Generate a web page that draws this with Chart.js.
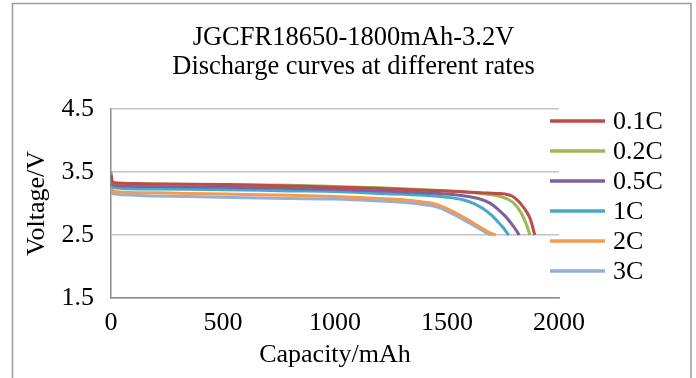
<!DOCTYPE html>
<html><head><meta charset="utf-8">
<script src="https://cdn.jsdelivr.net/npm/chart.js@4/dist/chart.umd.min.js"></script>
<style>html,body{margin:0;padding:0;background:#fff}#wrap{width:696px;height:378px}</style>
</head><body><div id="wrap"><canvas id="c" width="696" height="378"></canvas></div>
<script>
const titleLines = ['JGCFR18650-1800mAh-3.2V', 'Discharge curves at different rates'];
const seriesLabels = ['0.1C', '0.2C', '0.5C', '1C', '2C', '3C'];
const seriesColors = ['#BE4B48', '#98B954', '#7D60A0', '#46AAC5', '#F59A4E', '#93AFD8'];

const cap01  = [0, 5, 15, 50, 200, 500, 800, 1000, 1200, 1400, 1550, 1650, 1720, 1760, 1790, 1815, 1835, 1855, 1870, 1880, 1888, 1892];
const volt01 = [3.45, 3.36, 3.33, 3.32, 3.31, 3.30, 3.28, 3.26, 3.24, 3.21, 3.19, 3.17, 3.16, 3.15, 3.12, 3.05, 2.97, 2.87, 2.77, 2.66, 2.55, 2.50];

const cap02  = [0, 5, 15, 50, 200, 500, 800, 1000, 1200, 1400, 1550, 1650, 1700, 1740, 1770, 1800, 1820, 1840, 1855, 1865, 1870];
const volt02 = [3.42, 3.35, 3.33, 3.32, 3.31, 3.30, 3.29, 3.27, 3.25, 3.22, 3.19, 3.16, 3.14, 3.11, 3.07, 3.00, 2.91, 2.79, 2.66, 2.56, 2.50];

const cap05  = [0, 5, 15, 50, 200, 500, 800, 1000, 1200, 1400, 1500, 1580, 1640, 1690, 1730, 1760, 1790, 1810, 1822];
const volt05 = [3.45, 3.32, 3.29, 3.28, 3.27, 3.26, 3.24, 3.225, 3.20, 3.17, 3.15, 3.12, 3.08, 3.01, 2.90, 2.80, 2.67, 2.57, 2.50];

const cap1   = [0, 5, 15, 50, 200, 500, 800, 1000, 1200, 1400, 1500, 1570, 1620, 1660, 1700, 1730, 1755, 1775];
const volt1  = [3.50, 3.28, 3.25, 3.24, 3.23, 3.22, 3.20, 3.19, 3.16, 3.13, 3.10, 3.06, 3.00, 2.92, 2.81, 2.70, 2.60, 2.50];

const cap2   = [0, 5, 15, 50, 200, 500, 800, 1000, 1200, 1300, 1400, 1450, 1500, 1550, 1600, 1650, 1690, 1718];
const volt2  = [3.38, 3.22, 3.19, 3.18, 3.17, 3.15, 3.13, 3.11, 3.08, 3.06, 3.02, 2.99, 2.92, 2.83, 2.73, 2.62, 2.54, 2.50];

const cap3   = [0, 5, 15, 50, 200, 500, 800, 1000, 1200, 1300, 1400, 1450, 1500, 1550, 1600, 1650, 1685, 1703];
const volt3  = [3.30, 3.17, 3.15, 3.14, 3.12, 3.10, 3.08, 3.07, 3.04, 3.02, 2.98, 2.95, 2.88, 2.79, 2.69, 2.59, 2.52, 2.50];

const xTicks = [0, 500, 1000, 1500, 2000];
const yTicks = [1.5, 2.5, 3.5, 4.5];

const capSets = [cap01, cap02, cap05, cap1, cap2, cap3];
const voltSets = [volt01, volt02, volt05, volt1, volt2, volt3];

const FONT = "'Liberation Serif', 'Times New Roman', serif";

const datasets = seriesLabels.map((lab, i) => ({
  label: lab,
  data: capSets[i].map((c, j) => ({x: c, y: voltSets[i][j]})),
  borderColor: seriesColors[i],
  backgroundColor: seriesColors[i],
  borderWidth: 3,
  pointRadius: 0,
  showLine: true,
  fill: false,
  cubicInterpolationMode: 'monotone'
}));

const framePlugin = {
  id: 'frame',
  beforeDraw(chart) {
    const ctx = chart.ctx;
    ctx.save();
    ctx.fillStyle = '#fff';
    ctx.fillRect(0, 0, chart.width, chart.height);
    ctx.strokeStyle = '#9a9a9a';
    ctx.lineWidth = 1.5;
    ctx.strokeRect(12.5, 3.5, 678.5, 420);
    ctx.restore();
  }
};

const legendPlugin = {
  id: 'sideLegend',
  afterDraw(chart) {
    const ctx = chart.ctx;
    ctx.save();
    ctx.font = "26px " + FONT;
    ctx.textBaseline = 'middle';
    ctx.textAlign = 'left';
    chart.data.datasets.forEach((ds, i) => {
      const y = 121 + 30 * i;
      ctx.strokeStyle = ds.borderColor;
      ctx.lineWidth = 3.5;
      ctx.beginPath();
      ctx.moveTo(550, y);
      ctx.lineTo(605, y);
      ctx.stroke();
      ctx.fillStyle = '#000';
      ctx.fillText(ds.label, 613, y + 1);
    });
    ctx.restore();
  }
};

new Chart(document.getElementById('c'), {
  type: 'scatter',
  data: { datasets },
  plugins: [framePlugin, legendPlugin],
  options: {
    responsive: false,
    animation: false,
    devicePixelRatio: 1,
    layout: { padding: { left: 11, right: 0, top: 0, bottom: 0 } },
    plugins: {
      legend: { display: false },
      tooltip: { enabled: false },
      title: {
        display: true,
        text: titleLines,
        color: '#000',
        font: { family: FONT, size: 26.5, weight: 'normal', lineHeight: 1.08 },
        padding: { top: 24, bottom: 27.8 }
      }
    },
    scales: {
      x: {
        type: 'linear',
        min: 0, max: 2000,
        afterBuildTicks: (s) => { s.ticks = xTicks.map(v => ({value: v})); },
        afterFit: (s) => { s.height = 80; },
        grid: { display: false, drawTicks: false },
        border: { display: true, color: '#8c8c8c', width: 1.5 },
        ticks: { color: '#000', padding: 10, maxRotation: 0, font: { family: FONT, size: 26 }, callback: (v) => String(v) },
        title: { display: true, text: 'Capacity/mAh', color: '#000', font: { family: FONT, size: 26, lineHeight: 1.1 }, padding: { top: 0, bottom: 9 } }
      },
      y: {
        type: 'linear',
        min: 1.5, max: 4.5,
        afterBuildTicks: (s) => { s.ticks = yTicks.map(v => ({value: v})); },
        afterFit: (s) => { s.width = 100; },
        grid: { color: '#c4c4c4', lineWidth: 1.5, drawTicks: false },
        border: { display: true, color: '#8c8c8c', width: 1.5 },
        ticks: { color: '#000', padding: 17, font: { family: FONT, size: 26 }, callback: (v) => v.toFixed(1) },
        title: { display: true, text: 'Voltage/V', color: '#000', font: { family: FONT, size: 26, lineHeight: 1.1 }, padding: { top: 12, bottom: 0 } }
      },
      yRight: {
        type: 'linear',
        position: 'right',
        min: 1.5, max: 4.5,
        afterFit: (s) => { s.width = 137; },
        grid: { display: false, drawTicks: false },
        border: { display: false },
        ticks: { display: false },
        title: { display: false }
      }
    }
  }
});
</script>
</body></html>
